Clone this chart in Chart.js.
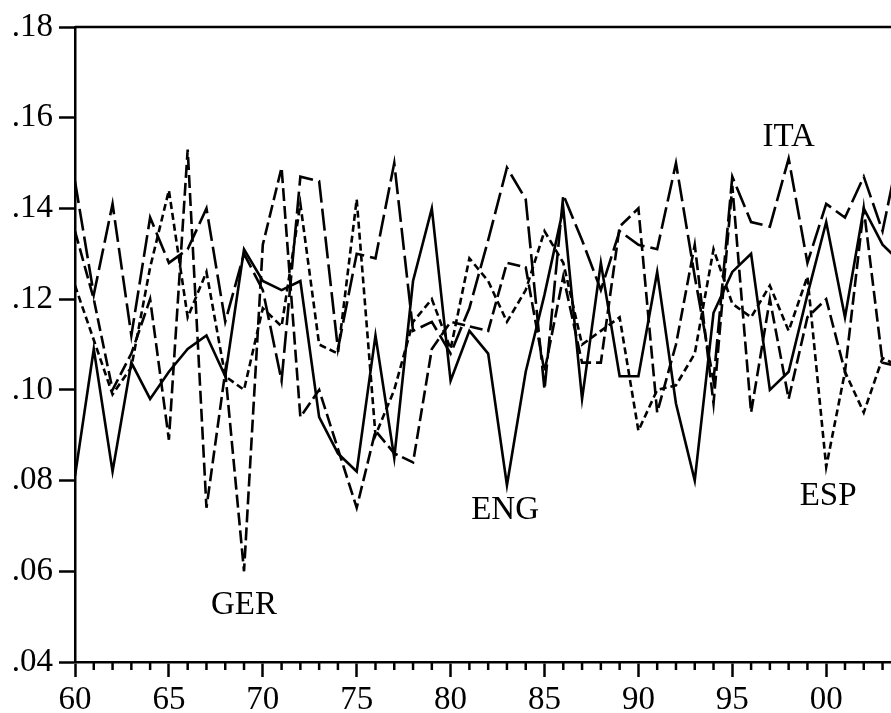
<!DOCTYPE html>
<html>
<head>
<meta charset="utf-8">
<script src="https://cdn.jsdelivr.net/npm/chart.js@4/dist/chart.umd.min.js"></script>
<style>
  html, body { margin: 0; padding: 0; background: #fff; }
  #wrap { width: 891px; height: 713px; }
</style>
</head>
<body>
<div id="wrap"><canvas id="c" width="891" height="713"></canvas></div>
<script>
const years = [];
for (let y = 1960; y <= 2004; y++) years.push(y);

const ENG = [0.081,0.109,0.082,0.106,0.098,0.104,0.109,0.112,0.103,0.131,
             0.124,0.122,0.124,0.094,0.086,0.082,0.112,0.085,0.124,0.140,
             0.102,0.113,0.108,0.079,0.104,0.121,0.140,0.098,0.128,0.103,
             0.103,0.126,0.097,0.080,0.117,0.126,0.130,0.100,0.104,0.121,
             0.137,0.116,0.140,0.132,0.128];
const GER = [0.135,0.120,0.100,0.108,0.120,0.089,0.153,0.074,0.104,0.060,
             0.132,0.149,0.094,0.100,0.087,0.074,0.091,0.086,0.084,0.109,
             0.115,0.114,0.113,0.128,0.127,0.104,0.125,0.106,0.106,0.136,
             0.140,0.095,0.110,0.132,0.097,0.145,0.095,0.120,0.098,0.116,
             0.120,0.104,0.140,0.106,0.105];
const ITA = [0.146,0.121,0.141,0.112,0.138,0.128,0.131,0.140,0.115,0.130,
             0.122,0.102,0.147,0.146,0.109,0.130,0.129,0.150,0.113,0.115,
             0.108,0.118,0.133,0.149,0.142,0.100,0.143,0.133,0.122,0.135,
             0.132,0.131,0.150,0.125,0.102,0.147,0.137,0.136,0.151,0.128,
             0.141,0.138,0.147,0.135,0.155];
const ESP = [0.123,0.111,0.099,0.105,0.127,0.144,0.116,0.126,0.103,0.100,
             0.118,0.114,0.141,0.110,0.108,0.142,0.090,0.100,0.115,0.120,
             0.109,0.129,0.124,0.115,0.122,0.135,0.128,0.110,0.113,0.116,
             0.091,0.100,0.101,0.108,0.131,0.119,0.116,0.123,0.113,0.125,
             0.083,0.104,0.095,0.107,0.105];

const yTicks = [0.04, 0.06, 0.08, 0.10, 0.12, 0.14, 0.16, 0.18];
const xMajorTicks = [1960, 1965, 1970, 1975, 1980, 1985, 1990, 1995, 2000];

// series labels placed in data coordinates
const seriesLabels = [
  { text: 'GER', x: 1969.0, y: 0.0505 },
  { text: 'ENG', x: 1982.9, y: 0.0716 },
  { text: 'ITA', x: 1998.0, y: 0.1537 },
  { text: 'ESP', x: 2000.1, y: 0.0747 }
];

const FONT = '"Liberation Serif", "Times New Roman", serif';

function pts(vals) { return years.map((y, i) => ({ x: y, y: vals[i] })); }

function ds(label, vals, dash) {
  return {
    label, data: pts(vals),
    borderColor: '#000', borderWidth: 2.6, borderDash: dash,
    pointRadius: 0, tension: 0, fill: false,
    borderCapStyle: 'butt', borderJoinStyle: 'miter'
  };
}

const decor = {
  id: 'decor',
  afterDraw(chart) {
    const ctx = chart.ctx, a = chart.chartArea;
    const xs = chart.scales.x, ys = chart.scales.y;
    ctx.save();
    ctx.strokeStyle = '#000';
    ctx.lineWidth = 2.5;
    // top frame line
    ctx.beginPath();
    ctx.moveTo(a.left, a.top);
    ctx.lineTo(chart.width, a.top);
    ctx.stroke();
    // minor year ticks
    for (let y = 1961; y <= 2003; y++) {
      if (y % 5 === 0) continue;
      const px = xs.getPixelForValue(y);
      ctx.beginPath();
      ctx.moveTo(px, a.bottom);
      ctx.lineTo(px, a.bottom + 8);
      ctx.stroke();
    }
    // series labels
    ctx.fillStyle = '#000';
    ctx.font = '33px ' + FONT;
    ctx.textAlign = 'center';
    ctx.textBaseline = 'alphabetic';
    seriesLabels.forEach(l => {
      ctx.fillText(l.text, xs.getPixelForValue(l.x), ys.getPixelForValue(l.y));
    });
    ctx.restore();
  }
};

new Chart(document.getElementById('c'), {
  type: 'line',
  data: {
    datasets: [
      ds('ENG', ENG, []),
      ds('GER', GER, [13, 5]),
      ds('ITA', ITA, [22, 6]),
      ds('ESP', ESP, [7, 4])
    ]
  },
  options: {
    responsive: false,
    animation: false,
    devicePixelRatio: 1,
    layout: { padding: { top: 27, left: 0, right: 0, bottom: 0 } },
    plugins: { legend: { display: false }, tooltip: { enabled: false } },
    scales: {
      x: {
        type: 'linear',
        min: 1960, max: 2003.45,
        afterBuildTicks: s => { s.ticks = xMajorTicks.map(v => ({ value: v })); },
        afterFit: s => { s.height = 51; },
        grid: { display: true, drawOnChartArea: false, drawTicks: true,
                tickLength: 15, tickWidth: 2.5, tickColor: '#000' },
        border: { display: true, color: '#000', width: 2.5 },
        ticks: {
          color: '#000', font: { family: FONT, size: 33 }, padding: 4,
          maxRotation: 0, autoSkip: false,
          callback: v => String(Math.round(v) % 100).padStart(2, '0')
        }
      },
      y: {
        min: 0.04, max: 0.18,
        afterBuildTicks: s => { s.ticks = yTicks.map(v => ({ value: v })); },
        afterFit: s => { s.width = 75; },
        grid: { display: true, drawOnChartArea: false, drawTicks: true,
                tickLength: 16, tickWidth: 2.5, tickColor: '#000' },
        border: { display: true, color: '#000', width: 2.5 },
        ticks: {
          color: '#000', font: { family: FONT, size: 33 }, padding: 6,
          autoSkip: false,
          callback: v => v.toFixed(2).replace(/^0/, '')
        }
      }
    }
  },
  plugins: [decor]
});
</script>
</body>
</html>
